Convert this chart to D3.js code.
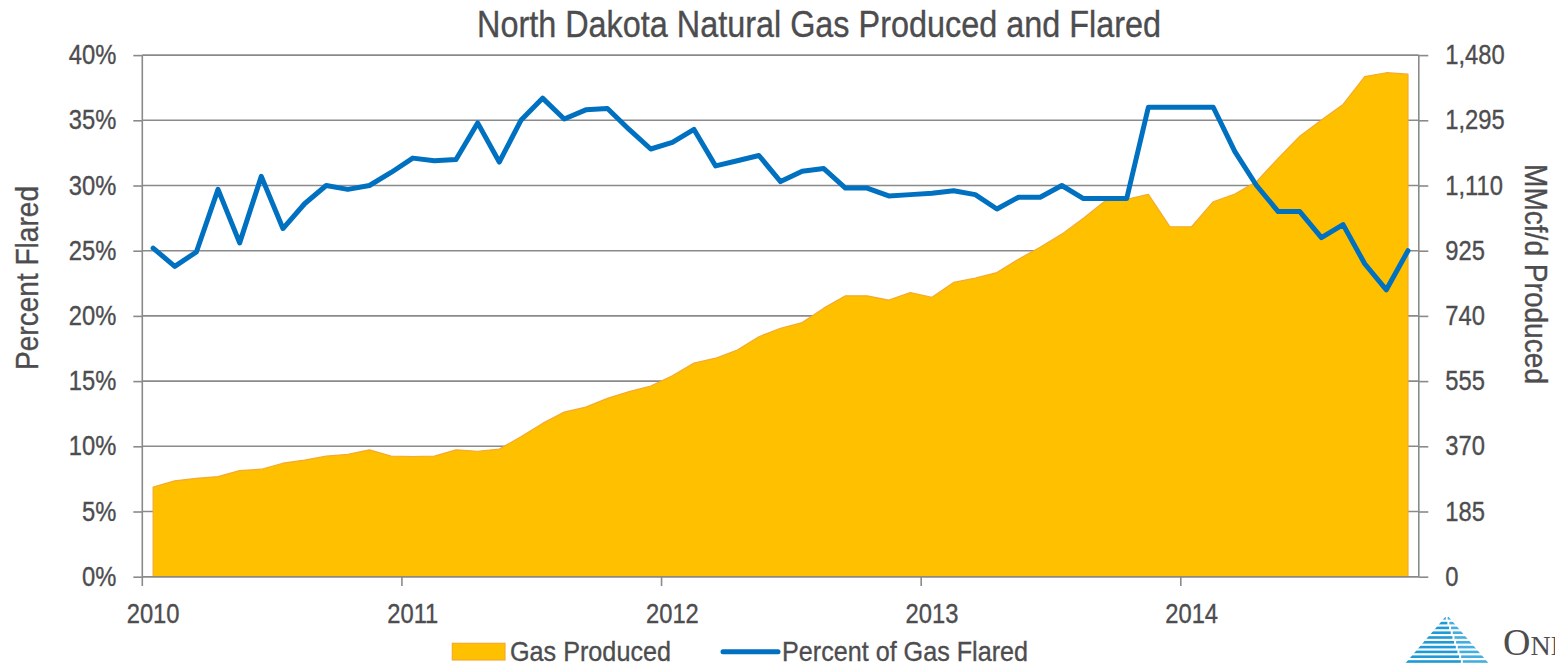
<!DOCTYPE html>
<html><head><meta charset="utf-8">
<script src="https://cdn.jsdelivr.net/npm/d3@7"></script>
<style>
html,body{margin:0;padding:0;background:#fff;overflow:hidden;}
svg{display:block;}
text{font-family:"Liberation Sans",Arial,sans-serif;fill:#4d4d4f;stroke:#4d4d4f;stroke-width:0.35px;}
</style></head><body>
<svg id="chart" width="1555" height="665"></svg>
<script>
// ---------------- DATA ----------------
const months = [
 "2010-01","2010-02","2010-03","2010-04","2010-05","2010-06","2010-07","2010-08","2010-09","2010-10","2010-11","2010-12",
 "2011-01","2011-02","2011-03","2011-04","2011-05","2011-06","2011-07","2011-08","2011-09","2011-10","2011-11","2011-12",
 "2012-01","2012-02","2012-03","2012-04","2012-05","2012-06","2012-07","2012-08","2012-09","2012-10","2012-11","2012-12",
 "2013-01","2013-02","2013-03","2013-04","2013-05","2013-06","2013-07","2013-08","2013-09","2013-10","2013-11","2013-12",
 "2014-01","2014-02","2014-03","2014-04","2014-05","2014-06","2014-07","2014-08","2014-09","2014-10","2014-11"
];
// Percent of gas flared (%)
const percentFlared = [
 25.2,23.8,24.9,29.7,25.6,30.7,26.7,28.6,30.0,29.7,30.0,31.0,
 32.1,31.9,32.0,34.8,31.8,35.0,36.7,35.1,35.8,35.9,34.3,32.8,
 33.3,34.3,31.5,31.9,32.3,30.3,31.1,31.3,29.8,29.8,29.2,29.3,
 29.4,29.6,29.3,28.2,29.1,29.1,30.0,29.0,29.0,29.0,36.0,36.0,
 36.0,36.0,32.6,30.0,28.0,28.0,26.0,27.0,24.0,22.0,25.0
];
// Gas produced (MMcf/d)
const gasProduced = [
 254,272,279,284,301,305,322,331,342,347,360,342,
 341,342,360,356,362,397,435,467,481,506,525,541,
 570,606,620,643,681,705,721,762,797,797,785,806,
 793,835,847,863,901,935,972,1017,1066,1071,1085,993,
 993,1064,1086,1121,1187,1250,1296,1340,1419,1430,1426
];
const yearTickMonths = ["2010-01","2011-01","2012-01","2013-01","2014-01"];
const leftTicks = [0,5,10,15,20,25,30,35,40];
const rightTicks = [0,185,370,555,740,925,1110,1295,1480];
const titleText = "North Dakota Natural Gas Produced and Flared";
const leftTitle = "Percent Flared";
const rightTitle = "MMcf/d Produced";
const legendLabels = ["Gas Produced","Percent of Gas Flared"];

// ---------------- LAYOUT ----------------
const X0 = 142.3, X1 = 1418.8, YT = 55.1, YB = 576.7;
const gridColor = "#8a8a8a", textColor = "#4d4d4f";
const gold = "#FFC000", goldStroke = "#F3AA2E", blue = "#0070C0";

const svg = d3.select("#chart");
const x = d3.scaleBand().domain(months).range([X0, X1]).paddingInner(0).paddingOuter(0);
const bw = x.bandwidth();
const cx = m => x(m) + bw / 2;
const yL = d3.scaleLinear().domain([0, 40]).range([YB, YT]);
const yR = d3.scaleLinear().domain([0, 1480]).range([YB, YT]);

function condense(sel, k) {
  sel.each(function () {
    const w = this.getComputedTextLength();
    d3.select(this).attr("textLength", w * k).attr("lengthAdjust", "spacingAndGlyphs");
  });
}

// gridlines
svg.append("g").selectAll("line").data(leftTicks).join("line")
  .attr("x1", X0).attr("x2", X1)
  .attr("y1", d => yL(d)).attr("y2", d => yL(d))
  .attr("stroke", gridColor).attr("stroke-width", 1.6);

// area
const data = months.map((m, i) => ({ m, p: percentFlared[i], g: gasProduced[i] }));
svg.append("path").datum(data)
  .attr("d", d3.area().x(d => cx(d.m)).y0(yR(0)).y1(d => yR(d.g)))
  .attr("fill", gold).attr("stroke", goldStroke).attr("stroke-width", 1.2).attr("stroke-linejoin", "round");

// left axis
const gL = svg.append("g").attr("transform", `translate(${X0},0)`)
  .call(d3.axisLeft(yL).tickValues(leftTicks).tickFormat(d => d + "%").tickSize(9).tickPadding(17));
// right axis
const gR = svg.append("g").attr("transform", `translate(${X1},0)`)
  .call(d3.axisRight(yR).tickValues(rightTicks).tickFormat(d3.format(",")).tickSize(9.5).tickPadding(17));
// bottom axis
const gB = svg.append("g").attr("transform", `translate(0,${YB})`)
  .call(d3.axisBottom(x).tickValues(yearTickMonths).tickFormat(m => m.slice(0, 4)).tickSize(9.3).tickPadding(18));
gB.selectAll(".tick line").attr("x1", -bw / 2).attr("x2", -bw / 2);

[gL, gR, gB].forEach(g => {
  g.select(".domain").attr("stroke", gridColor).attr("stroke-width", 1.6);
  g.selectAll(".tick line").attr("stroke", gridColor).attr("stroke-width", 1.6);
  g.selectAll(".tick text").attr("font-size", 27).attr("fill", textColor)
    .style("font-family", '"Liberation Sans", Arial, sans-serif');
  condense(g.selectAll(".tick text"), 0.88);
});
gL.select(".domain").attr("d", `M0,${YT}V${YB}`);
gR.select(".domain").attr("d", `M0,${YT}V${YB}`);
gB.select(".domain").attr("d", `M${X0},0H${X1}`);

// line
svg.append("path").datum(data)
  .attr("d", d3.line().x(d => cx(d.m)).y(d => yL(d.p)))
  .attr("fill", "none").attr("stroke", blue).attr("stroke-width", 5)
  .attr("stroke-linejoin", "round").attr("stroke-linecap", "round");

// title
svg.append("text").attr("x", 819).attr("y", 37.3).attr("text-anchor", "middle")
  .attr("font-size", 36).attr("fill", "#4a4a4c").style("stroke", "#4a4a4c").text(titleText)
  .attr("textLength", 684).attr("lengthAdjust", "spacingAndGlyphs");

// axis titles
svg.append("text").attr("transform", "translate(38,278) rotate(-90)").attr("text-anchor", "middle")
  .attr("font-size", 31).attr("fill", textColor).text(leftTitle)
  .attr("textLength", 184).attr("lengthAdjust", "spacingAndGlyphs");
svg.append("text").attr("transform", "translate(1525,274) rotate(90)").attr("text-anchor", "middle")
  .attr("font-size", 31).attr("fill", textColor).text(rightTitle)
  .attr("textLength", 220).attr("lengthAdjust", "spacingAndGlyphs");

// legend
const lg = svg.append("g");
lg.append("rect").attr("x", 452.3).attr("y", 643.3).attr("width", 52.7).attr("height", 16.7)
  .attr("fill", gold).attr("stroke", goldStroke).attr("stroke-width", 1.2);
lg.append("text").attr("x", 510).attr("y", 660.5).attr("font-size", 28.5).attr("fill", textColor)
  .text(legendLabels[0]).attr("textLength", 161).attr("lengthAdjust", "spacingAndGlyphs");
lg.append("line").attr("x1", 723).attr("x2", 778).attr("y1", 651.7).attr("y2", 651.7)
  .attr("stroke", blue).attr("stroke-width", 5).attr("stroke-linecap", "round");
lg.append("text").attr("x", 782).attr("y", 660.5).attr("font-size", 28.5).attr("fill", textColor)
  .text(legendLabels[1]).attr("textLength", 246).attr("lengthAdjust", "spacingAndGlyphs");

// logo (decorative)
const logo = svg.append("g");
const defs = svg.append("defs");
defs.append("clipPath").attr("id", "pyr").append("path")
  .attr("d", "M1447,615 L1491,666 L1403,666 Z");
const pg = logo.append("g").attr("clip-path", "url(#pyr)");
for (let k = 0; k < 11; k++) {
  const yy = 617 + k * 4.8;
  const split = 1447 + (yy - 615) * 0.35;
  pg.append("rect").attr("x", 1400).attr("y", yy).attr("width", split - 1400 - 2).attr("height", 2.6).attr("fill", "#1E9AD6");
  pg.append("rect").attr("x", split).attr("y", yy).attr("width", 1495 - split).attr("height", 2.6).attr("fill", "#45AEE0");
}
const lt = logo.append("text").attr("x", 1503).attr("y", 655)
  .style("font-family", '"Liberation Serif","Times New Roman",serif').attr("fill", "#5a5b5d").style("stroke", "none");
lt.append("tspan").attr("font-size", 38).text("O");
lt.append("tspan").attr("font-size", 28).text("NEOK");
logo.append("text").attr("x", 1503).attr("y", 682)
  .style("font-family", '"Liberation Serif","Times New Roman",serif').attr("fill", "#5a5b5d").style("stroke", "none")
  .attr("font-size", 26).text("PARTNERS");
</script>
</body></html>
